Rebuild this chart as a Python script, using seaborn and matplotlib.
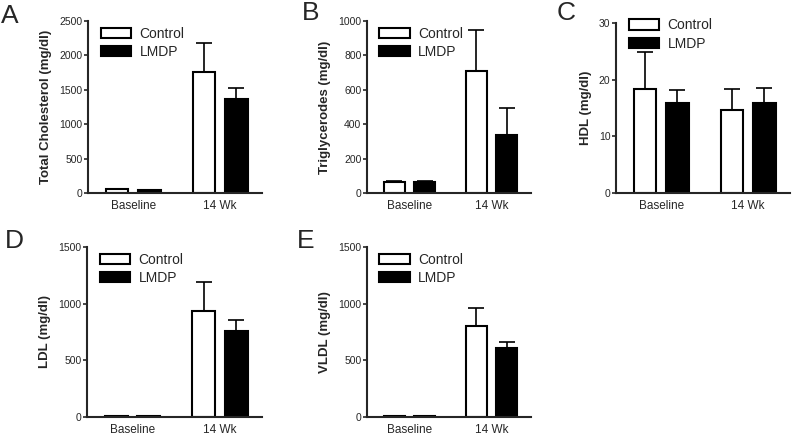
import numpy as np
import pandas as pd
import matplotlib
matplotlib.use("Agg")
import matplotlib.pyplot as plt
from matplotlib.patches import Patch
import seaborn as sns

sns.set_style("ticks")
plt.rcParams['font.family'] = ['Liberation Sans', 'DejaVu Sans']

# ==================== data ====================
times = ["Baseline", "14 Wk"]
groups = ["Control", "LMDP"]

tc_mean = [60, 45, 1760, 1370]
tc_err = [0, 0, 415, 150]
tg_mean = [62, 65, 712, 338]
tg_err = [8, 6, 234, 155]
hdl_mean = [18.4, 15.9, 14.7, 15.9]
hdl_err = [6.5, 2.3, 3.7, 2.7]
ldl_mean = [12, 12, 938, 759]
ldl_err = [0, 0, 257, 93]
vldl_mean = [10, 10, 803, 606]
vldl_err = [0, 0, 158, 59]

panels = [
    ("A", "Total Cholesterol (mg/dl)", tc_mean, tc_err, [0, 500, 1000, 1500, 2000, 2500]),
    ("B", "Triglycerodes (mg/dl)", tg_mean, tg_err, [0, 200, 400, 600, 800, 1000]),
    ("C", "HDL (mg/dl)", hdl_mean, hdl_err, [0, 10, 20, 30]),
    ("D", "LDL (mg/dl)", ldl_mean, ldl_err, [0, 500, 1000, 1500]),
    ("E", "VLDL (mg/dl)", vldl_mean, vldl_err, [0, 500, 1000, 1500]),
]

# axes boxes in pixels: left, top, right, bottom
W, H = 792, 437
boxes = [
    (88, 21, 262, 193),
    (367, 21, 531, 193),
    (616, 23, 790, 193),
    (87, 247, 262, 417),
    (367, 247, 531, 417),
]
letter_pos = [(1, 23), (302, 20), (557, 20), (5, 248), (297, 248)]
legend_y = [1.0, 1.0, 1.06, 1.0, 1.0]

fig = plt.figure(figsize=(W / 100, H / 100), dpi=100)

for (letter, ylab, means, errs, yticks), (l, t, r, b), (lx, ly), ly_leg in zip(panels, boxes, letter_pos, legend_y):
    ax = fig.add_axes([l / W, 1 - b / H, (r - l) / W, (b - t) / H])
    df = pd.DataFrame({
        "time": [tm for tm in times for g in groups],
        "group": [g for tm in times for g in groups],
        "value": means,
    })
    err_df = df.assign(err=errs)
    sns.barplot(data=df, x="time", y="value", hue="group", order=times, hue_order=groups,
                palette={"Control": "white", "LMDP": "black"}, edgecolor="black",
                linewidth=1.5, width=0.74, gap=0.3, errorbar=None, legend=False, ax=ax)
    # upper-only error bars
    for g, cont in zip(groups, ax.containers):
        sub = err_df[err_df["group"] == g].set_index("time").loc[times]
        xs = [p.get_x() + p.get_width() / 2 for p in cont.patches]
        ys = sub["value"].values
        ax.errorbar(xs, ys, yerr=[np.zeros(len(ys)), sub["err"].values], fmt="none",
                    ecolor="black", elinewidth=1.2, capsize=5.5, capthick=1.2, zorder=1)
    ax.set_xlim(-0.52, 1.48)
    ax.set_ylim(0, yticks[-1])
    ax.set_yticks(yticks)
    ax.set_xlabel("")
    ax.set_ylabel(ylab, fontsize=9.5, fontweight="bold", labelpad=5)
    ax.tick_params(axis="y", labelsize=7.5, length=3, width=1.2, pad=1)
    ax.tick_params(axis="x", labelsize=8.5, length=0, pad=5)
    for s in ["left", "bottom"]:
        ax.spines[s].set_linewidth(1.5)
    sns.despine(ax=ax)
    handles = [Patch(facecolor="white", edgecolor="black", linewidth=1.5, label="Control"),
               Patch(facecolor="black", edgecolor="black", linewidth=1.5, label="LMDP")]
    ax.legend(handles=handles, loc="upper left", bbox_to_anchor=(0.04, ly_leg), frameon=False,
              fontsize=10, handlelength=2.2, handleheight=0.75, handletextpad=0.6,
              labelspacing=0.3, borderaxespad=0)
    fig.text(lx / W, 1 - ly / H, letter, fontsize=19, ha="left", va="baseline")

fig.savefig("out.png", dpi=100)
